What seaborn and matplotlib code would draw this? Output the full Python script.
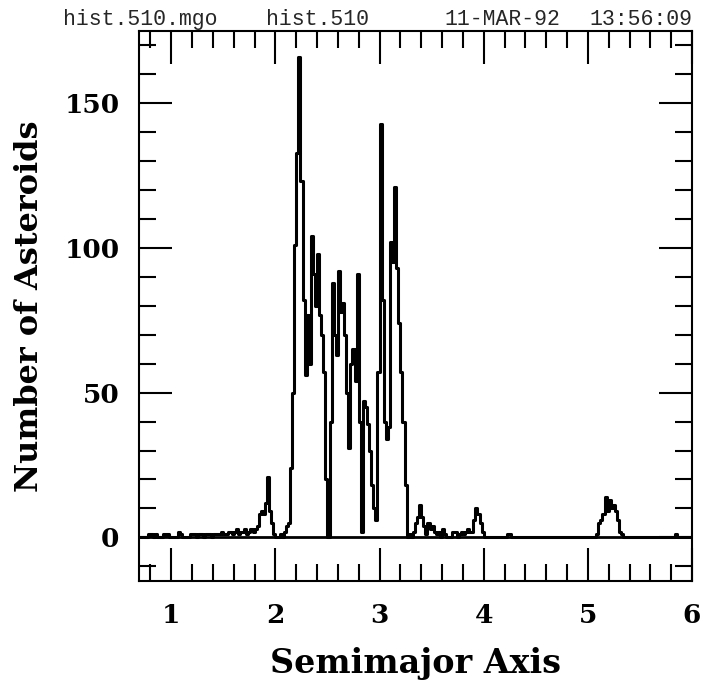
import numpy as np
import pandas as pd
import matplotlib
matplotlib.use("Agg")
import matplotlib.pyplot as plt
import seaborn as sns
from matplotlib.ticker import MultipleLocator

# ---- data: counts per 0.02 AU bin (left edge given by segment start) ----
BIN_WIDTH = 0.02
GRID_START = 0.70
GRID_END = 6.00

inner_start = 0.78
inner_counts = [1, 1, 0, 1, 0, 0, 0, 1, 1, 1, 0, 0, 0, 0, 2, 1, 0, 0, 0, 0,
                1, 1, 1, 0, 1, 1, 0, 1, 1, 1, 0, 1, 1, 1, 1, 2, 1, 1, 2, 2,
                1, 2, 3, 1, 2, 2, 3, 1, 2, 3, 2, 3, 4, 8, 9, 8, 12, 21, 9, 5,
                1, 0, 0, 1, 0, 2, 4]

main_start = 2.12
main_counts = [5, 24, 50, 101, 133, 166, 123, 82, 56, 77,
               60, 104, 91, 80, 98, 77, 70, 57, 20, 0,
               40, 88, 70, 63, 92, 78, 81, 70, 50, 31,
               60, 65, 54, 91, 40, 2, 47, 45, 39, 30,
               18, 10, 6, 57, 143, 82, 40, 34, 38, 102,
               95, 121, 93, 74, 57, 40, 18, 0]

outer_start = 3.28
outer_counts = [1, 0, 2, 5, 7, 11, 7, 4, 1, 5, 3, 4, 2, 1, 2, 0, 3, 1, 0, 0,
                0, 2, 2, 0, 1, 2, 1, 2, 3, 2, 2, 6, 10, 8, 5, 2, 0, 0, 0, 0,
                0, 0, 0, 0, 0, 0, 0, 1, 1, 0]

trojan_start = 5.08
trojan_counts = [1, 5, 6, 8, 14, 9, 13, 10, 11, 9, 6, 2, 1, 0]

far_start = 5.84
far_counts = [1]

header_texts = ["hist.510.mgo", "hist.510", "11-MAR-92", "13:56:09"]
x_label = "Semimajor Axis"
y_label = "Number of Asteroids"

# ---- assemble the histogram table ----
edges = np.round(np.arange(GRID_START, GRID_END + 1e-9, BIN_WIDTH), 2)
counts = np.zeros(len(edges) - 1)
for start, seg in [(inner_start, inner_counts), (main_start, main_counts),
                   (outer_start, outer_counts), (trojan_start, trojan_counts),
                   (far_start, far_counts)]:
    i0 = int(round((start - GRID_START) / BIN_WIDTH))
    counts[i0:i0 + len(seg)] = seg
centers = (edges[:-1] + edges[1:]) / 2
df = pd.DataFrame({"a": centers, "n": counts})

# ---- plot ----
sns.set_theme(style="white")
plt.rcParams["font.family"] = ["DejaVu Serif"]

fig = plt.figure(figsize=(7.04, 6.8), dpi=100)
ax = fig.add_axes([139 / 704, 1 - 580.7 / 680, (692 - 139) / 704, (580.7 - 31) / 680])

sns.histplot(data=df, x="a", weights="n", bins=[float(e) for e in edges],
             element="step", fill=False, color="black", linewidth=2.2, ax=ax)
ax.axhline(0, color="black", linewidth=2.0)

ax.set_xlim(0.69, 6.0)
ax.set_ylim(-15, 175)
ax.xaxis.set_major_locator(MultipleLocator(1))
ax.xaxis.set_minor_locator(MultipleLocator(0.2))
ax.yaxis.set_major_locator(MultipleLocator(50))
ax.yaxis.set_minor_locator(MultipleLocator(10))
ax.tick_params(which="both", direction="in", top=True, right=True,
               bottom=True, left=True, color="black", width=1.5)
ax.tick_params(which="major", length=24)
ax.tick_params(which="minor", length=12)
ax.tick_params(axis="x", which="major", labelsize=19, pad=16)
ax.tick_params(axis="y", which="major", labelsize=19, pad=14)
ax.set_yticks([0, 50, 100, 150])
ax.set_yticklabels(["0", "50", "100", "150"])
ax.set_xticks([1, 2, 3, 4, 5, 6])
ax.set_xticklabels(["1", "2", "3", "4", "5", "6"])
for lab in ax.get_xticklabels() + ax.get_yticklabels():
    lab.set_color("black")
    lab.set_fontweight("bold")
for s in ax.spines.values():
    s.set_visible(True)
    s.set_color("black")
    s.set_linewidth(1.5)

ax.set_xlabel(x_label, fontsize=24, fontweight="bold", color="black", labelpad=14)
ax.set_ylabel(y_label, fontsize=23, fontweight="bold", color="black", labelpad=14)

mono = ["Liberation Mono", "DejaVu Sans Mono"]
hy = 1 - 25 / 680
fig.text(63 / 704, hy, header_texts[0], family=mono, fontsize=15.5, ha="left", va="baseline")
fig.text(266 / 704, hy, header_texts[1], family=mono, fontsize=15.5, ha="left", va="baseline")
fig.text(444 / 704, hy, header_texts[2], family=mono, fontsize=15.5, ha="left", va="baseline")
fig.text(692 / 704, hy, header_texts[3], family=mono, fontsize=15.5, ha="right", va="baseline")

fig.savefig("out.png", dpi=100, facecolor="white")
